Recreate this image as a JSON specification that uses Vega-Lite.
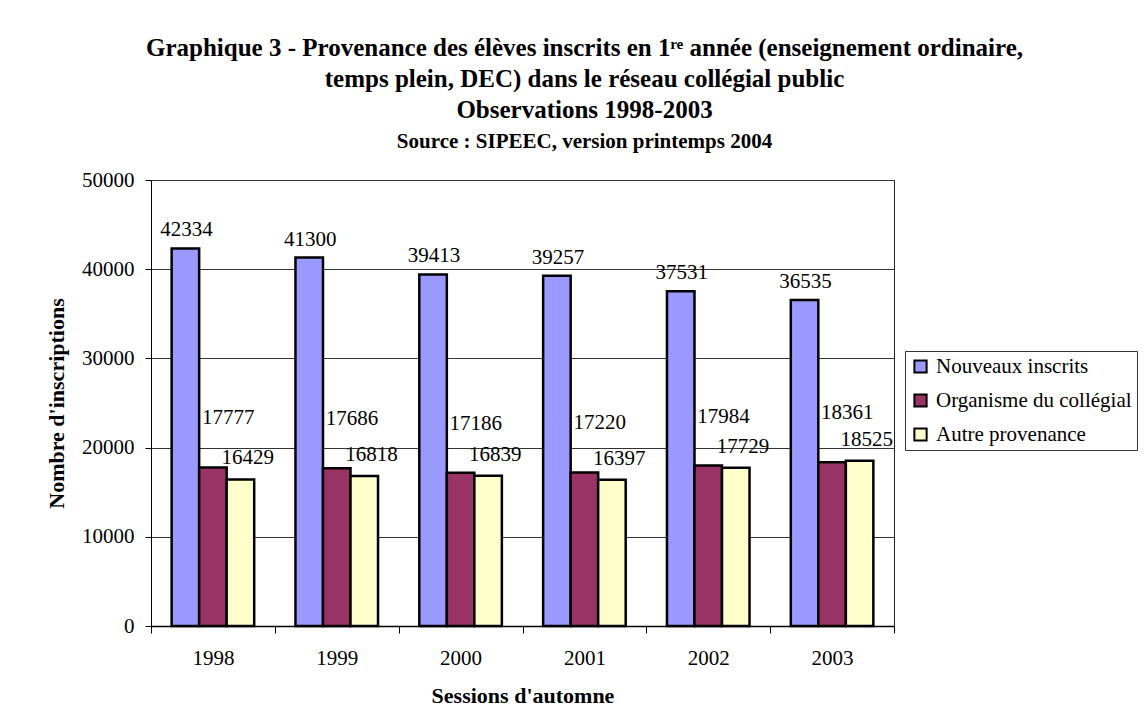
{
  "$schema": "https://vega.github.io/schema/vega-lite/v6.json",
  "autosize": {"type": "none"},
  "padding": {"left": 151, "top": 180, "right": 252, "bottom": 87},
  "width": 743,
  "height": 446,
  "background": "white",
  "title": {
    "text": ["Graphique 3 - Provenance des élèves inscrits en 1ʳᵉ année (enseignement ordinaire,", "temps plein, DEC) dans le réseau collégial public", "Observations 1998-2003"],
    "subtitle": "Source : SIPEEC, version printemps 2004",
    "anchor": "middle",
    "dx": 62,
    "offset": 17,
    "lineHeight": 31,
    "subtitlePadding": 8
  },
  "data": {
    "values": [
      {"year": "1998", "series": "Nouveaux inscrits", "value": 42334},
      {"year": "1998", "series": "Organisme du collégial", "value": 17777},
      {"year": "1998", "series": "Autre provenance", "value": 16429},
      {"year": "1999", "series": "Nouveaux inscrits", "value": 41300},
      {"year": "1999", "series": "Organisme du collégial", "value": 17686},
      {"year": "1999", "series": "Autre provenance", "value": 16818},
      {"year": "2000", "series": "Nouveaux inscrits", "value": 39413},
      {"year": "2000", "series": "Organisme du collégial", "value": 17186},
      {"year": "2000", "series": "Autre provenance", "value": 16839},
      {"year": "2001", "series": "Nouveaux inscrits", "value": 39257},
      {"year": "2001", "series": "Organisme du collégial", "value": 17220},
      {"year": "2001", "series": "Autre provenance", "value": 16397},
      {"year": "2002", "series": "Nouveaux inscrits", "value": 37531},
      {"year": "2002", "series": "Organisme du collégial", "value": 17984},
      {"year": "2002", "series": "Autre provenance", "value": 17729},
      {"year": "2003", "series": "Nouveaux inscrits", "value": 36535},
      {"year": "2003", "series": "Organisme du collégial", "value": 18361},
      {"year": "2003", "series": "Autre provenance", "value": 18525}
    ]
  },
  "encoding": {
    "x": {
      "field": "year", "type": "nominal",
      "scale": {"paddingInner": 0, "paddingOuter": 0},
      "axis": {
        "title": "Sessions d'automne",
        "labelAngle": 0,
        "tickBand": "extent",
        "tickSize": 7,
        "labelPadding": 14,
        "titlePadding": 17,
        "domainWidth": 1.5
      }
    },
    "xOffset": {
      "field": "series", "type": "nominal",
      "scale": {"domain": ["Nouveaux inscrits", "Organisme du collégial", "Autre provenance"], "paddingInner": 0, "paddingOuter": 0.75}
    },
    "y": {
      "field": "value", "type": "quantitative",
      "scale": {"domain": [0, 50000], "nice": false},
      "axis": {
        "title": "Nombre d'inscriptions",
        "values": [0, 10000, 20000, 30000, 40000, 50000],
        "format": "d",
        "grid": true,
        "tickSize": 6,
        "labelPadding": 11,
        "titlePadding": 13
      }
    }
  },
  "layer": [
    {
      "mark": {"type": "bar", "stroke": "black", "strokeWidth": 2.5},
      "encoding": {
        "color": {
          "field": "series", "type": "nominal",
          "scale": {"domain": ["Nouveaux inscrits", "Organisme du collégial", "Autre provenance"], "range": ["#9999FF", "#993366", "#FFFFCC"]},
          "legend": {
            "title": null,
            "orient": "none",
            "legendX": 754,
            "legendY": 171,
            "strokeColor": "#333333",
            "padding": 5,
            "symbolType": "square",
            "symbolSize": 150,
            "symbolStrokeColor": "black",
            "symbolStrokeWidth": 2,
            "symbolOpacity": 1,
            "labelFontSize": 21,
            "labelFont": "Liberation Serif, Times New Roman, serif",
            "labelColor": "black",
            "labelLimit": 300,
            "rowPadding": 12,
            "labelOffset": 5
          }
        }
      }
    },
    {
      "transform": [{"filter": "datum.series === 'Nouveaux inscrits'"}],
      "mark": {"type": "text", "align": "center", "baseline": "alphabetic", "dy": -12, "dx": 1, "font": "Liberation Serif, Times New Roman, serif", "fontSize": 21, "color": "black"},
      "encoding": {"text": {"field": "value", "type": "quantitative", "format": "d"}}
    },
    {
      "transform": [{"filter": "datum.series === 'Organisme du collégial'"}],
      "mark": {"type": "text", "align": "left", "baseline": "alphabetic", "dy": -43, "dx": -11, "font": "Liberation Serif, Times New Roman, serif", "fontSize": 21, "color": "black"},
      "encoding": {"text": {"field": "value", "type": "quantitative", "format": "d"}}
    },
    {
      "transform": [{"filter": "datum.series === 'Autre provenance'"}],
      "mark": {"type": "text", "align": "left", "baseline": "alphabetic", "dy": -15, "dx": -19, "font": "Liberation Serif, Times New Roman, serif", "fontSize": 21, "color": "black"},
      "encoding": {"text": {"field": "value", "type": "quantitative", "format": "d"}}
    }
  ],
  "config": {
    "view": {"stroke": "#222222", "strokeWidth": 1},
    "axis": {
      "labelFont": "Liberation Serif, Times New Roman, serif",
      "labelFontSize": 21,
      "labelColor": "black",
      "titleFont": "Liberation Serif, Times New Roman, serif",
      "titleFontSize": 22,
      "titleFontWeight": "bold",
      "titleColor": "black",
      "domainColor": "black",
      "tickColor": "black",
      "gridColor": "#333333",
      "gridWidth": 1
    },
    "title": {
      "font": "Liberation Serif, Times New Roman, serif",
      "fontSize": 25,
      "fontWeight": "bold",
      "color": "black",
      "subtitleFont": "Liberation Serif, Times New Roman, serif",
      "subtitleFontSize": 21,
      "subtitleFontWeight": "bold",
      "subtitleColor": "black"
    }
  }
}
